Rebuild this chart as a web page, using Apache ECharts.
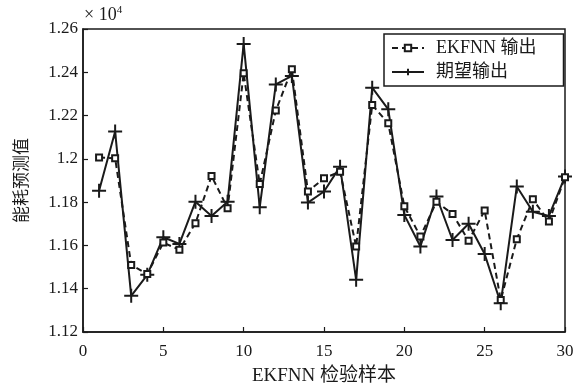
<!DOCTYPE html>
<html>
<head>
<meta charset="utf-8">
<script src="https://cdn.jsdelivr.net/npm/echarts@6/dist/echarts.min.js"></script>
<style>
html, body { margin: 0; padding: 0; background: #fff; }
#chart { width: 579px; height: 385px; }
</style>
</head>
<body>
<div id="chart"></div>
<script>
// 检验样本序号
var samples = [1,2,3,4,5,6,7,8,9,10,11,12,13,14,15,16,17,18,19,20,21,22,23,24,25,26,27,28,29,30];
// EKFNN 输出 (×10^4)
var ekfnnOut = [1.2006,1.2003,1.1510,1.1468,1.1613,1.1580,1.1703,1.1921,1.1772,1.2395,
                1.1884,1.2223,1.2414,1.1849,1.1910,1.1941,1.1595,1.2249,1.2164,1.1781,
                1.1641,1.1802,1.1745,1.1622,1.1761,1.1348,1.1629,1.1813,1.1710,1.1915];
// 期望输出 (×10^4)
var expectOut = [1.1853,1.2126,1.1367,1.1464,1.1638,1.1607,1.1802,1.1736,1.1802,1.2531,
                 1.1776,1.2344,1.2383,1.1798,1.1849,1.1964,1.1441,1.2329,1.2229,1.1741,
                 1.1595,1.1826,1.1625,1.1700,1.1560,1.1333,1.1872,1.1756,1.1736,1.1918];
var xTicks = [0, 30, 5];
var yTicks = [1.12, 1.26, 0.02];

var font = "'Liberation Serif', 'Noto Sans CJK SC', serif";
var ink = '#1a1a1a';
var plusPath = 'path://M0,5L10,5M5,0L5,10';

function pairs(ys) {
	return samples.map(function (x, i) { return [x, ys[i]]; });
}

var myChart = echarts.init(document.getElementById('chart'));
var option = {
	animation: false,
	grid: {
		left: 83,
		right: 14,
		top: 29,
		bottom: 53,
		outerBoundsMode: 'none',
		containLabel: false,
		show: true,
		borderColor: ink,
		borderWidth: 1.5
	},
	legend: {
		orient: 'vertical',
		left: 384,
		top: 34,
		itemWidth: 32,
		itemHeight: 8,
		itemGap: 6,
		padding: [5, 27, 5, 7],
		borderColor: ink,
		borderWidth: 1.5,
		textStyle: { fontFamily: font, fontSize: 18, color: ink, padding: [0, 0, 0, 7] },
		data: ['EKFNN 输出', '期望输出']
	},
	xAxis: {
		type: 'value',
		min: xTicks[0],
		max: xTicks[1],
		interval: xTicks[2],
		name: 'EKFNN 检验样本',
		nameLocation: 'middle',
		nameGap: 35,
		nameTextStyle: { fontFamily: font, fontSize: 19, color: ink },
		axisLine: { lineStyle: { color: ink, width: 1.5 } },
		axisTick: { inside: true, length: 5, lineStyle: { color: ink, width: 1.2 } },
		axisLabel: { fontFamily: font, fontSize: 17, color: ink, margin: 11 },
		splitLine: { show: false }
	},
	yAxis: {
		type: 'value',
		min: yTicks[0],
		max: yTicks[1],
		interval: yTicks[2],
		name: '能耗预测值',
		nameLocation: 'middle',
		nameGap: 52,
		nameTextStyle: { fontFamily: font, fontSize: 17, color: ink },
		axisLine: { lineStyle: { color: ink, width: 1.5 } },
		axisTick: { inside: true, length: 5, lineStyle: { color: ink, width: 1.2 } },
		axisLabel: {
			fontFamily: font, fontSize: 17, color: ink, margin: 5,
			formatter: function (v) { return String(Math.round(v * 100) / 100); }
		},
		splitLine: { show: false }
	},
	graphic: [{
		type: 'text',
		left: 84,
		top: 5,
		style: {
			text: '× 10{s|4}',
			fontFamily: font,
			fontSize: 18,
			fill: ink,
			rich: { s: { fontFamily: font, fontSize: 11, fill: ink, verticalAlign: 'top', padding: [0, 0, 9, 0] } }
		}
	}],
	series: [{
		name: 'EKFNN 输出',
		type: 'line',
		data: pairs(ekfnnOut),
		symbol: 'emptyRect',
		symbolSize: 6,
		lineStyle: { color: ink, width: 2, type: [6, 4] },
		itemStyle: { color: ink, borderColor: ink, borderWidth: 1.8 },
		z: 3
	}, {
		name: '期望输出',
		type: 'line',
		data: pairs(expectOut),
		symbol: plusPath,
		symbolSize: 14,
		lineStyle: { color: ink, width: 2 },
		itemStyle: { color: ink, borderColor: ink, borderWidth: 2 },
		z: 2
	}]
};
myChart.setOption(option);
</script>
</body>
</html>
